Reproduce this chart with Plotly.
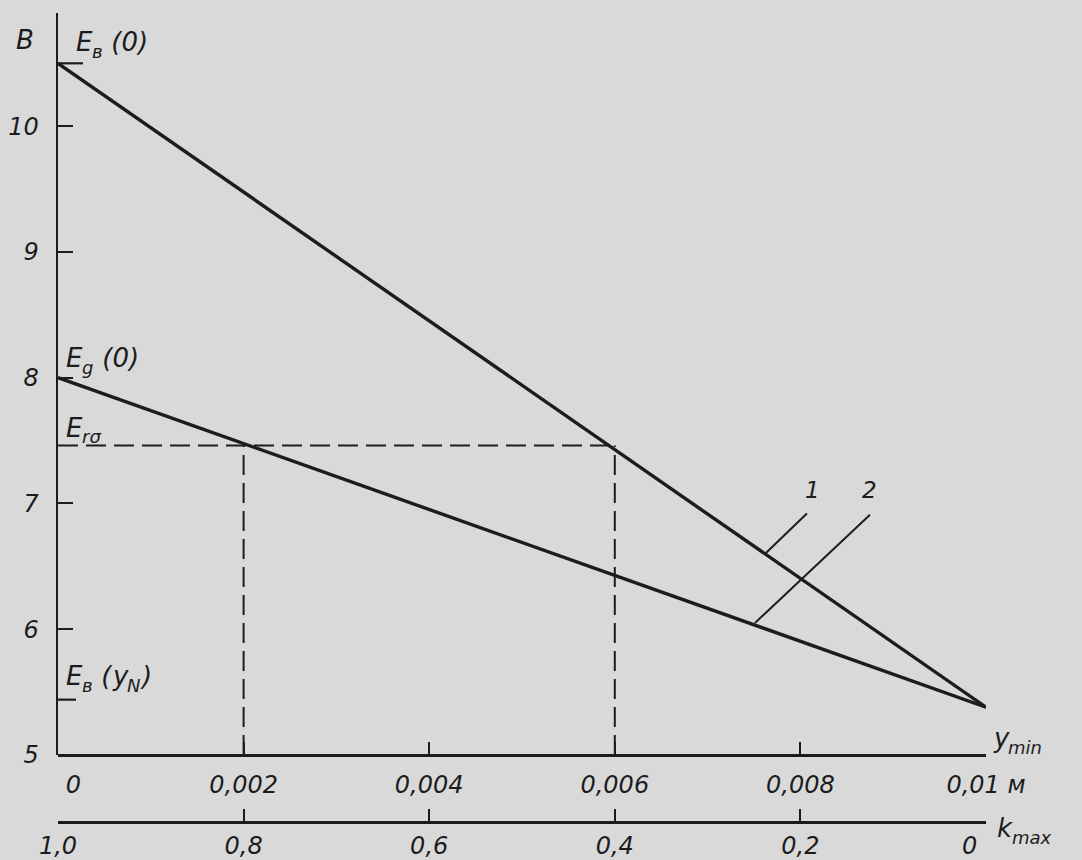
import plotly.graph_objects as go

# ---- data ----
y_pos = [0.0, 0.01]            # y, м
E_curve1 = [10.5, 5.38]         # curve 1, В
E_curve2 = [8.0, 5.38]          # curve 2, В
E_rs = 7.46                     # E_rσ level
y_dash = [0.002, 0.006]         # intersections with E_rσ
E_v0 = 10.5                     # E_в(0) tick
E_vyN = 5.44                    # E_в(y_N) tick

NB = "\u00a0"
x_ticks = [0, 0.002, 0.004, 0.006, 0.008, 0.01]
x_ticktext = [NB * 4 + "0", "0,002", "0,004", "0,006", "0,008", "0,01 м"]
k_ticks = [1.0, 0.8, 0.6, 0.4, 0.2, 0.0]
k_ticktext = ["1,0", "0,8", "0,6", "0,4", "0,2", ""]   # last label "0" drawn beside k_max
k_last_label = "0"
y_ticks = [5, 6, 7, 8, 9, 10]
y_ticktext = ["5", "6", "7", "8", "9", "10"]

leader1_x = [0.00762, 0.00807]
leader1_y = [6.60, 6.92]
leader2_x = [0.00751, 0.00875]
leader2_y = [6.05, 6.91]

INK = "#1c1c1c"
BG = "#d9d9d9"
FAMILY = "DejaVu Sans"
FONT = dict(family=FAMILY, size=24, color=INK, style="italic")

W, H = 1082, 860
ML, MR, MT, MB = 58, 96, 13, 38
plot_w = W - ML - MR
plot_h = H - MT - MB
x_axis_px = 755
p = (H - MB - x_axis_px) / plot_h

fig = go.Figure()

# main curves
fig.add_trace(go.Scatter(x=y_pos, y=E_curve1, mode="lines",
                         line=dict(color=INK, width=3.4), hoverinfo="skip", showlegend=False))
fig.add_trace(go.Scatter(x=y_pos, y=E_curve2, mode="lines",
                         line=dict(color=INK, width=3.4), hoverinfo="skip", showlegend=False))

# dashed construction lines
dash = "20px,8px"
fig.add_trace(go.Scatter(x=[0, y_dash[1]], y=[E_rs, E_rs], mode="lines",
                         line=dict(color=INK, width=2, dash=dash), hoverinfo="skip", showlegend=False))
for xd in y_dash:
    fig.add_trace(go.Scatter(x=[xd, xd], y=[y_ticks[0], E_rs], mode="lines",
                             line=dict(color=INK, width=2, dash=dash), hoverinfo="skip", showlegend=False))

# leader lines for labels 1 and 2
fig.add_trace(go.Scatter(x=leader1_x, y=leader1_y, mode="lines",
                         line=dict(color=INK, width=2), hoverinfo="skip", showlegend=False))
fig.add_trace(go.Scatter(x=leader2_x, y=leader2_y, mode="lines",
                         line=dict(color=INK, width=2), hoverinfo="skip", showlegend=False))

# invisible trace so the k_max axis is drawn
fig.add_trace(go.Scatter(x=[k_ticks[0], k_ticks[-1]], y=[y_ticks[0], y_ticks[0]], xaxis="x2",
                         mode="lines", line=dict(width=0), hoverinfo="skip", showlegend=False))

# extra ticks on the y axis
for yv, ln in [(E_v0, 25), (E_vyN, 18)]:
    fig.add_shape(type="line", xref="x", yref="y", xsizemode="pixel", xanchor=0,
                  x0=0, x1=ln, y0=yv, y1=yv, line=dict(color=INK, width=2.2))

# approximate DejaVu Sans advance widths (em)
WID = {"E": 0.632, "в": 0.60, "g": 0.635, "r": 0.411, "σ": 0.634, "y": 0.592,
       "N": 0.748, "m": 0.974, "i": 0.278, "n": 0.634, "k": 0.579, "a": 0.613,
       "x": 0.592, " ": 0.318, "(": 0.390, ")": 0.390, "0": 0.636}

def label(x_px, yc_px, parts, anchor="left"):
    """parts: list of (text, size, vertical shift in px)."""
    total = sum(sum(WID.get(c, 0.6) for c in t) * s for t, s, _ in parts)
    x = x_px if anchor == "left" else x_px - total / 2
    for t, s, dy in parts:
        fig.add_annotation(text=t, x=(x - ML) / plot_w, y=(H - MB - (yc_px + dy)) / plot_h,
                           xref="paper", yref="paper", xanchor="left", yanchor="middle",
                           showarrow=False, borderpad=0, borderwidth=0,
                           font=dict(family=FAMILY, size=s, color=INK, style="italic"))
        x += sum(WID.get(c, 0.6) for c in t) * s

B, S = 26, 18
label(24, 40, [("В", B, 0)], anchor="center")
label(76, 42, [("E", B, 0), ("в", S, 9), (" (0)", B, 0)])
label(66, 358, [("E", B, 0), ("g", S, 9), (" (0)", B, 0)])
label(66, 428, [("E", B, 0), ("rσ", S, 9)])
label(66, 676, [("E", B, 0), ("в", S, 9), (" (", B, 0), ("y", B, 0), ("N", S, 9), (")", B, 0)])
label(812, 490, [("1", 23, 0)], anchor="center")
label(869, 490, [("2", 23, 0)], anchor="center")
label(993, 738, [("y", B, 0), ("min", S, 9)])
label(997, 828, [("k", B, 0), ("max", S, 9)])
label(970, 846, [(k_last_label, 24, 0)], anchor="center")

axis_common = dict(showline=True, linecolor=INK, linewidth=2.5, ticks="inside",
                   tickcolor=INK, tickwidth=2, showgrid=False, zeroline=False,
                   tickfont=FONT, fixedrange=True, automargin=False)

fig.update_layout(
    width=W, height=H,
    margin=dict(l=ML, r=MR, t=MT, b=MB, pad=0, autoexpand=False),
    paper_bgcolor=BG, plot_bgcolor=BG,
    font=FONT,
    showlegend=False,
    xaxis=dict(range=[0, 0.01], anchor="free", position=p, side="bottom",
               tickmode="array", tickvals=x_ticks, ticktext=x_ticktext,
               ticklen=12, ticklabelstandoff=8, **axis_common),
    xaxis2=dict(range=[1.0, 0.0], overlaying="x", anchor="free", position=0, side="bottom",
                tickmode="array", tickvals=k_ticks, ticktext=k_ticktext,
                ticklen=12, ticklabelstandoff=2, **axis_common),
    yaxis=dict(range=[5, 10.9], domain=[p, 1],
               tickmode="array", tickvals=y_ticks, ticktext=y_ticktext,
               ticklen=15, ticklabelstandoff=12, **axis_common),
)

fig.write_html("out.html", config={"staticPlot": True},
               post_script="document.body.style.margin='0';document.body.style.overflow='hidden';")
